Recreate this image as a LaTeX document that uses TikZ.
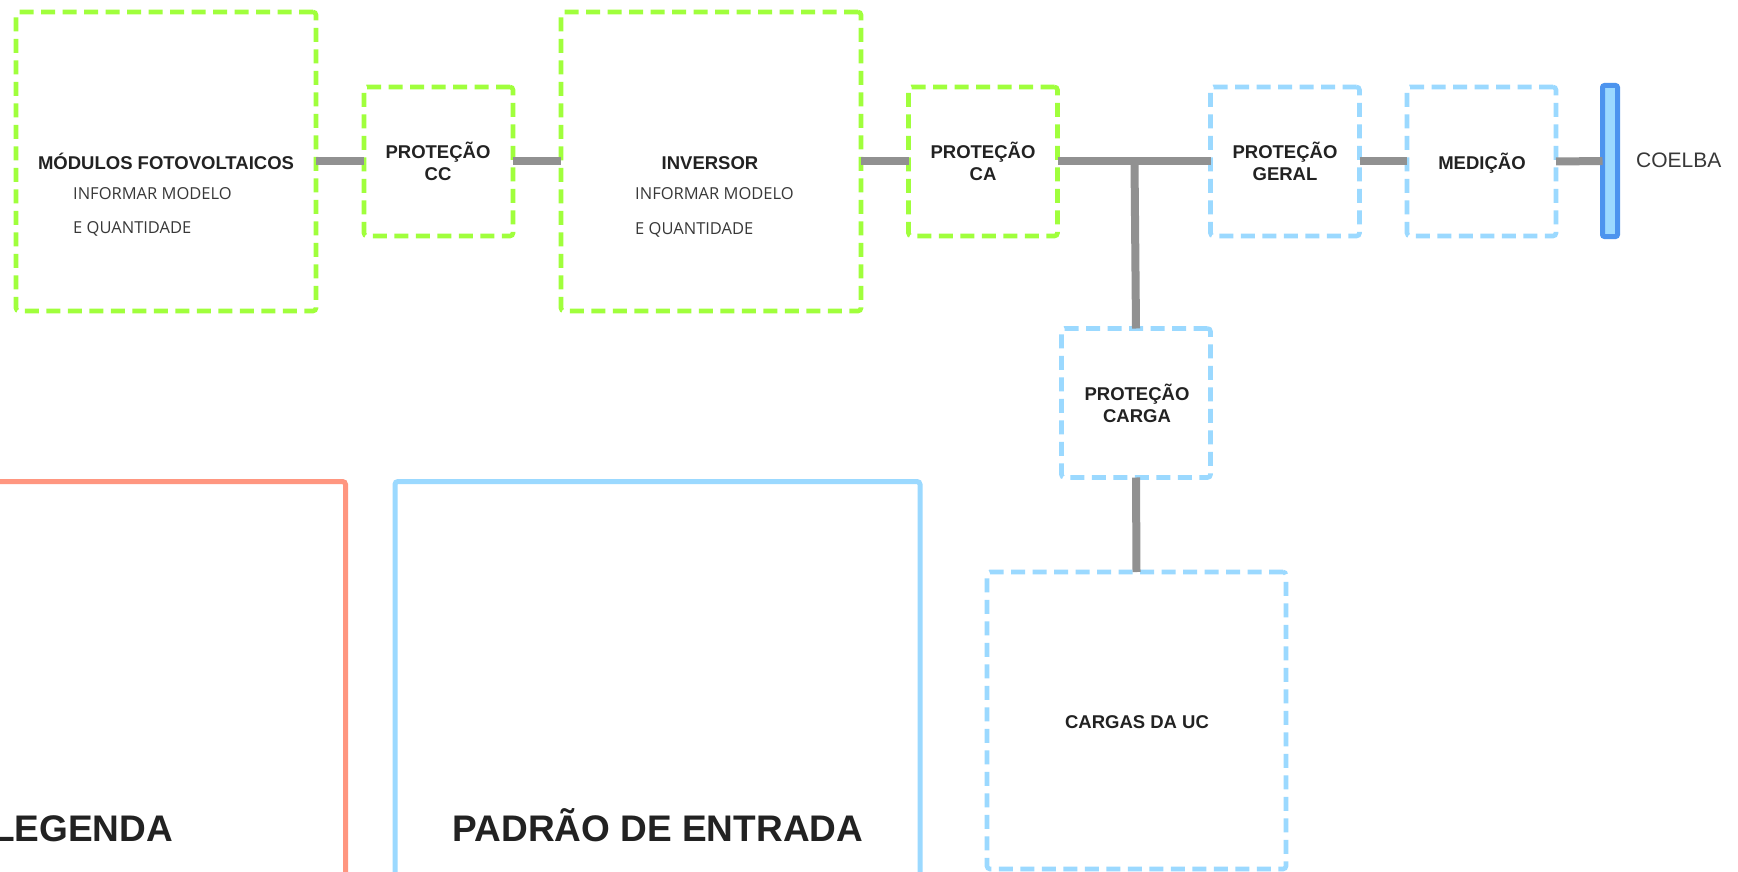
\documentclass[tikz,border=0pt]{standalone}
\usepackage{fontspec}
\setmainfont{Liberation Sans}
\newfontfamily\subfont{Open Sans}
\definecolor{grn}{RGB}{160,255,60}
\definecolor{lblue}{RGB}{155,217,255}
\definecolor{dblue}{RGB}{76,148,238}
\definecolor{salmon}{RGB}{255,150,128}
\definecolor{wire}{RGB}{145,145,145}
\definecolor{ink}{RGB}{34,34,34}
\tikzset{
  greenbox/.style={draw=grn, line width=4.6pt, dash pattern=on 14pt off 7.5pt, rounded corners=3pt, inner sep=0pt, outer sep=0pt},
  bluebox/.style={draw=lblue, line width=4.6pt, dash pattern=on 14pt off 7.5pt, rounded corners=3pt, inner sep=0pt, outer sep=0pt},
  smallbox/.style={minimum width=149pt, minimum height=149pt},
  bigbox/.style={minimum width=300pt, minimum height=299pt},
  wireline/.style={draw=wire, line width=8pt},
  title/.style={inner sep=0pt, text=ink, font=\fontsize{18.5pt}{21pt}\selectfont\bfseries},
  subtxt/.style={inner sep=0pt, text=ink!90, font=\subfont\fontsize{16.5pt}{19pt}\selectfont},
  bigtitle/.style={inner sep=0pt, text=ink, font=\fontsize{37pt}{42pt}\selectfont\bfseries},
  panel/.style={line width=5pt, rounded corners=3pt, minimum width=525pt, minimum height=600pt, anchor=north, inner sep=0pt, outer sep=0pt}
}
\begin{document}
\begin{tikzpicture}[x=1pt,y=-1pt]
\useasboundingbox (0,0) rectangle (1738,872);
\clip (0,0) rectangle (1738,872);
\fill[white] (0,0) rectangle (1738,872);

% boxes
\node[greenbox, bigbox] (mod) at (166,161.5) {};
\node[greenbox, smallbox] (pcc) at (438.5,161.5) {};
\node[greenbox, bigbox] (inv) at (711,161.5) {};
\node[greenbox, smallbox] (pca) at (983,161.5) {};
\node[bluebox, smallbox] (pger) at (1285,161.5) {};
\node[bluebox, smallbox] (med) at (1481.5,161.5) {};
\node[bluebox, smallbox] (pcar) at (1136,403) {};
\node[bluebox, minimum width=299pt, minimum height=297pt] (carg) at (1136.5,720.5) {};
\node[draw=dblue, fill=lblue, line width=5pt, rounded corners=2pt, minimum width=15pt, minimum height=151pt, inner sep=0pt, outer sep=0pt] (bar) at (1610,161) {};

% panels
\node[panel, draw=salmon] (leg) at (83,481.5) {};
\node[panel, draw=lblue] (pad) at (657.5,481.5) {};

% connectors
\coordinate (tj) at (1134.5,161.5);
\draw[wireline] (mod.east) -- (pcc.west);
\draw[wireline] (pcc.east) -- (inv.west);
\draw[wireline] (inv.east) -- (pca.west);
\draw[wireline] (pca.east) -- (pger.west);
\draw[wireline] (pger.east) -- (med.west);
\draw[wireline] (med.east) -- (bar.west);
\draw[wireline] (tj) -- (pcar.north);
\draw[wireline] (pcar.south) -- (carg.north);

% labels
\node[title, anchor=base] (tmod) at (166,169) {MÓDULOS FOTOVOLTAICOS};
\node[subtxt, anchor=base west] (smod1) at (73,199) {INFORMAR MODELO};
\node[subtxt, anchor=base west] (smod2) at (73,233) {E QUANTIDADE};
\node[title, anchor=base] (tinv) at (710,169) {INVERSOR};
\node[subtxt, anchor=base west] (sinv1) at (635,200) {INFORMAR MODELO};
\node[subtxt, anchor=base west] (sinv2) at (635,234) {E QUANTIDADE};
\node[title, anchor=base] (tpcc1) at (438,158) {PROTEÇÃO};
\node[title, anchor=base] (tpcc2) at (438,180) {CC};
\node[title, anchor=base] (tpca1) at (983,158) {PROTEÇÃO};
\node[title, anchor=base] (tpca2) at (983,180) {CA};
\node[title, anchor=base] (tpger1) at (1285,158) {PROTEÇÃO};
\node[title, anchor=base] (tpger2) at (1285,180) {GERAL};
\node[title, anchor=base] (tmed) at (1482,169) {MEDIÇÃO};
\node[title, anchor=base] (tpcar1) at (1137,400) {PROTEÇÃO};
\node[title, anchor=base] (tpcar2) at (1137,422) {CARGA};
\node[title, anchor=base] (tcarg) at (1137,728.5) {CARGAS DA UC};
\node[inner sep=0pt, anchor=base west, text=ink!90, font=\fontsize{21pt}{25pt}\selectfont] (coelba) at (1636,167.5) {COELBA};
\node[bigtitle, anchor=base] (tleg) at (82.5,841) {LEGENDA};
\node[bigtitle, anchor=base] (tpad) at (658,841) {PADRÃO DE ENTRADA};
\end{tikzpicture}
\end{document}
